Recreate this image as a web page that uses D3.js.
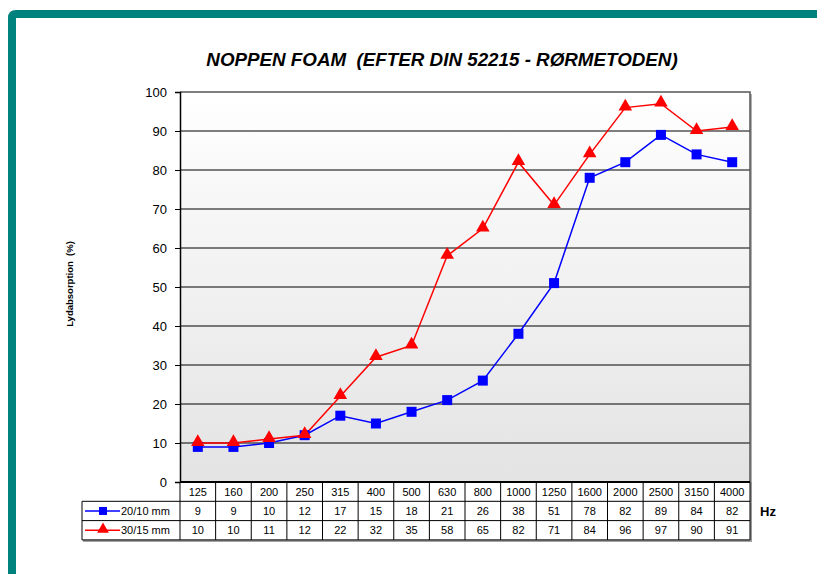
<!DOCTYPE html>
<html>
<head>
<meta charset="utf-8">
<script src="https://cdn.jsdelivr.net/npm/d3@7"></script>
<style>
  body { margin: 0; background: #fff; }
  svg { display: block; font-family: "Liberation Sans", Arial, sans-serif; }
  text { white-space: pre; }
</style>
</head>
<body>
<svg width="817" height="574"></svg>
<script>
// data
var freqs = ['125', '160', '200', '250', '315', '400', '500', '630', '800', '1000', '1250', '1600', '2000', '2500', '3150', '4000'];
var foam20 = [9, 9, 10, 12, 17, 15, 18, 21, 26, 38, 51, 78, 82, 89, 84, 82];
var foam30 = [10, 10, 11, 12, 22, 32, 35, 58, 65, 82, 71, 84, 96, 97, 90, 91];
var seriesNames = ['20/10 mm', '30/15 mm'];
var yTicks = [0, 10, 20, 30, 40, 50, 60, 70, 80, 90, 100];

var svg = d3.select('svg');

// teal frame (top + left)
svg.append('path')
    .attr('d', 'M8,574 L8,18 Q8,10 16,10 L817,10 L817,18 L16,18 L16,574 Z')
    .attr('fill', '#00827f');

var plotLeft = 180, plotRight = 750, plotTop = 92, plotBottom = 482;

var x = d3.scaleBand().domain(freqs).range([plotLeft, plotRight]);
var y = d3.scaleLinear().domain([0, 100]).range([plotBottom, plotTop]);

// plot background gradient
var defs = svg.append('defs');
var grad = defs.append('linearGradient')
    .attr('id', 'bg').attr('x1', 0).attr('y1', 0).attr('x2', 0).attr('y2', 1);
grad.append('stop').attr('offset', '0%').attr('stop-color', '#ffffff');
grad.append('stop').attr('offset', '100%').attr('stop-color', '#e3e3e3');

// shadow
svg.append('rect')
    .attr('x', plotLeft + 2).attr('y', plotTop + 2)
    .attr('width', plotRight - plotLeft).attr('height', plotBottom - plotTop)
    .attr('fill', '#b0b0b0');
svg.append('rect')
    .attr('x', plotLeft).attr('y', plotTop)
    .attr('width', plotRight - plotLeft).attr('height', plotBottom - plotTop)
    .attr('fill', 'url(#bg)');

// grid lines
svg.append('g')
    .selectAll('line')
    .data(yTicks.slice(1, -1))
    .enter()
    .append('line')
    .attr('x1', plotLeft).attr('x2', plotRight)
    .attr('y1', d => y(d)).attr('y2', d => y(d))
    .attr('stroke', '#000').attr('stroke-width', 1);

// plot border: grey top/right
svg.append('path')
    .attr('d', `M${plotLeft},${plotTop}H${plotRight}V${plotBottom}`)
    .attr('fill', 'none').attr('stroke', '#555').attr('stroke-width', 1.5);

// y axis
var yAxis = d3.axisLeft(y).tickValues(yTicks).tickSize(5).tickPadding(8);
var gy = svg.append('g')
    .attr('transform', `translate(${plotLeft},0)`)
    .call(yAxis);
gy.select('.domain').attr('stroke', '#000').attr('stroke-width', 1.5);
gy.selectAll('.tick text').attr('font-size', 13).attr('font-family', '"Liberation Sans", Arial, sans-serif').attr('fill', '#000');

svg.append('text')
    .attr('transform', 'translate(73,284) rotate(-90)')
    .attr('text-anchor', 'middle')
    .attr('font-size', 9.5)
    .attr('font-weight', 'bold')
    .text('Lydabsorption  (%)');

// title
svg.append('text')
    .attr('x', 442).attr('y', 66)
    .attr('text-anchor', 'middle')
    .attr('font-size', 18.8)
    .attr('font-weight', 'bold')
    .attr('font-style', 'italic')
    .text('NOPPEN FOAM  (EFTER DIN 52215 - RØRMETODEN)');

// lines and markers
var line = d3.line()
    .x((d, i) => x(freqs[i]) + x.bandwidth() / 2)
    .y(d => y(d));

svg.append('path')
    .datum(foam20)
    .attr('d', line)
    .attr('fill', 'none').attr('stroke', '#0000ff').attr('stroke-width', 1.5);

svg.append('path')
    .datum(foam30)
    .attr('d', line)
    .attr('fill', 'none').attr('stroke', '#ff0000').attr('stroke-width', 1.5);

svg.append('g')
    .selectAll('rect')
    .data(foam20)
    .enter()
    .append('rect')
    .attr('x', (d, i) => x(freqs[i]) + x.bandwidth() / 2 - 5)
    .attr('y', d => y(d) - 5)
    .attr('width', 10).attr('height', 10)
    .attr('fill', '#0000ff');

var tri = d3.symbol().type(d3.symbolTriangle).size(80);
svg.append('g')
    .selectAll('path')
    .data(foam30)
    .enter()
    .append('path')
    .attr('transform', (d, i) => `translate(${x(freqs[i]) + x.bandwidth() / 2},${y(d) - 1})`)
    .attr('d', tri)
    .attr('fill', '#ff0000');

// data table
var rowH = 19.3;
var legendLeft = 82;
var t = svg.append('g');

// table shadow
t.append('rect')
    .attr('x', legendLeft + 1).attr('y', plotBottom + rowH + 1)
    .attr('width', plotRight - legendLeft + 1).attr('height', rowH * 2 + 1)
    .attr('fill', '#999');
t.append('rect')
    .attr('x', plotLeft + 1).attr('y', plotBottom)
    .attr('width', plotRight - plotLeft + 1).attr('height', rowH + 1)
    .attr('fill', '#999');
t.append('rect')
    .attr('x', plotLeft).attr('y', plotBottom)
    .attr('width', plotRight - plotLeft).attr('height', rowH)
    .attr('fill', '#fff');
t.append('rect')
    .attr('x', legendLeft).attr('y', plotBottom + rowH)
    .attr('width', plotRight - legendLeft).attr('height', rowH * 2)
    .attr('fill', '#fff');

// horizontal lines
[1, 2, 3].forEach(function(k) {
    t.append('line')
        .attr('x1', legendLeft).attr('x2', plotRight)
        .attr('y1', plotBottom + rowH * k).attr('y2', plotBottom + rowH * k)
        .attr('stroke', '#000');
});
t.append('line')
    .attr('x1', legendLeft).attr('x2', legendLeft)
    .attr('y1', plotBottom + rowH).attr('y2', plotBottom + rowH * 3)
    .attr('stroke', '#000');

// vertical cell lines
t.selectAll('line.col')
    .data(freqs)
    .enter()
    .append('line')
    .attr('class', 'col')
    .attr('x1', d => x(d)).attr('x2', d => x(d))
    .attr('y1', plotBottom).attr('y2', plotBottom + rowH * 3)
    .attr('stroke', '#000');
t.append('line')
    .attr('x1', plotRight).attr('x2', plotRight)
    .attr('y1', plotBottom).attr('y2', plotBottom + rowH * 3)
    .attr('stroke', '#000');

// bottom line of plot (over table top)
svg.append('line')
    .attr('x1', plotLeft).attr('x2', plotRight)
    .attr('y1', plotBottom).attr('y2', plotBottom)
    .attr('stroke', '#000').attr('stroke-width', 2);

var rows = [freqs, foam20, foam30];
rows.forEach(function(vals, r) {
    t.append('g')
        .selectAll('text')
        .data(vals)
        .enter()
        .append('text')
        .attr('x', (d, i) => x(freqs[i]) + x.bandwidth() / 2)
        .attr('y', plotBottom + rowH * r + rowH / 2 + 4)
        .attr('text-anchor', 'middle')
        .attr('font-size', 11)
        .text(d => d);
});

// legend keys
seriesNames.forEach(function(name, i) {
    var cy = plotBottom + rowH * (i + 1) + rowH / 2;
    var col = i === 0 ? '#0000ff' : '#ff0000';
    t.append('line')
        .attr('x1', legendLeft + 3).attr('x2', legendLeft + 38)
        .attr('y1', cy).attr('y2', cy)
        .attr('stroke', col).attr('stroke-width', 1.5);
    if (i === 0) {
        t.append('rect')
            .attr('x', legendLeft + 17).attr('y', cy - 4)
            .attr('width', 8).attr('height', 8)
            .attr('fill', col);
    } else {
        t.append('path')
            .attr('transform', `translate(${legendLeft + 21},${cy - 1})`)
            .attr('d', d3.symbol().type(d3.symbolTriangle).size(60))
            .attr('fill', col);
    }
    t.append('text')
        .attr('x', legendLeft + 39).attr('y', cy + 4)
        .attr('font-size', 11)
        .text(name);
});

svg.append('text')
    .attr('x', 760).attr('y', 516)
    .attr('font-size', 13)
    .attr('font-weight', 'bold')
    .text('Hz');
</script>
</body>
</html>
